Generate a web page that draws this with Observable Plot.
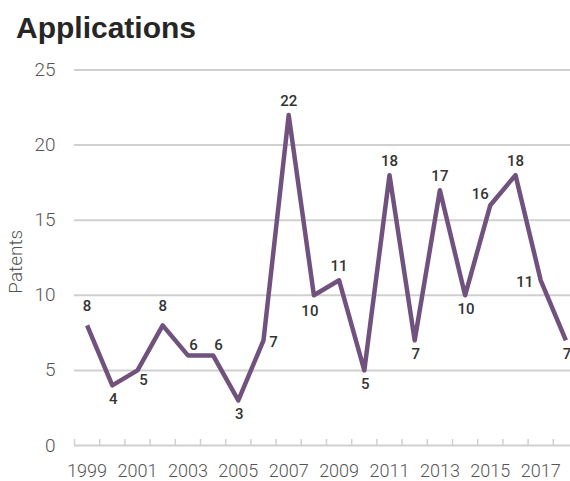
<!DOCTYPE html>
<html>
<head>
<meta charset="utf-8">
<script src="https://cdn.jsdelivr.net/npm/d3@7"></script>
<script src="https://cdn.jsdelivr.net/npm/@observablehq/plot@0.6"></script>
<style>
  html, body { margin: 0; padding: 0; background: #fff; overflow: hidden; }
  #chart { width: 570px; height: 481px; position: relative; overflow: hidden; }
  .title {
    height: 50px;
    box-sizing: border-box;
    padding: 13px 0 0 16px;
    font-family: "Liberation Sans", Arial, sans-serif;
    font-weight: bold;
    font-size: 30px;
    line-height: 30px;
    color: #262626;
  }
</style>
</head>
<body>
<div id="chart">
  <div class="title">Applications</div>
</div>
<script>
// Patent applications per year
const years   = [1999, 2000, 2001, 2002, 2003, 2004, 2005, 2006, 2007, 2008,
                 2009, 2010, 2011, 2012, 2013, 2014, 2015, 2016, 2017, 2018];
const patents = [8, 4, 5, 8, 6, 6, 3, 7, 22, 10,
                 11, 5, 18, 7, 17, 10, 16, 18, 11, 7];
const yTicks  = [0, 5, 10, 15, 20, 25];
const xLabels = [1999, 2001, 2003, 2005, 2007, 2009, 2011, 2013, 2015, 2017];

const data = years.map((year, i) => ({year, value: patents[i]}));

// Year boundaries for the small tick marks along the baseline
const boundaries = [...years.map(y => y - 0.5), years[years.length - 1] + 0.5];

// Where each value label sits relative to its point
const placement = {
  high:        {years: [1999, 2002],                   dx: 0,   dy: -19},
  top:         {years: [2007, 2009, 2011, 2013, 2016], dx: 0,   dy: -14},
  bottom:      {years: [2000, 2005, 2010, 2012, 2014, 2018], dx: 1, dy: 14},
  bottomLeft:  {years: [2008],                         dx: -4,  dy: 15.5},
  bottomRight: {years: [2001],                         dx: 6,   dy: 10},
  topRight:    {years: [2003, 2004],                   dx: 5.5, dy: -10},
  right:       {years: [2006],                         dx: 10,  dy: 2},
  left:        {years: [2017],                         dx: -16, dy: 2},
  topLeft:     {years: [2015],                         dx: -10, dy: -11}
};

const labelMarks = Object.values(placement).map(p =>
  Plot.text(data.filter(d => p.years.includes(d.year)), {
    x: "year",
    y: "value",
    text: d => String(d.value),
    dx: p.dx,
    dy: p.dy,
    textAnchor: "middle",
    lineAnchor: "middle",
    fontSize: 15,
    fontWeight: 500,
    fill: "#333"
  })
);

const grey = "#d0d0d0";

const plot = Plot.plot({
  width: 590,
  height: 431,
  marginTop: 19.5,
  marginBottom: 36,
  marginLeft: 74,
  marginRight: 12,
  style: {fontFamily: "Roboto, 'Liberation Sans', sans-serif", maxWidth: "none", overflow: "visible", background: "transparent"},
  x: {type: "linear", domain: [1998.5, 2018.5]},
  y: {domain: [0, 25]},
  marks: [
    Plot.ruleY(yTicks, {stroke: grey, strokeWidth: 2}),
    Plot.axisX(boundaries, {tickSize: -6, stroke: grey, strokeWidth: 1.5, text: null, label: null}),
    Plot.axisX(xLabels, {tickSize: 0, tickPadding: 18.5, tickFormat: d => String(d),
      fontSize: 18, fontWeight: 300, fill: "#555", label: null}),
    Plot.axisY(yTicks, {tickSize: 0, tickPadding: 19, fontSize: 19, fontWeight: 300,
      fill: "#555", label: null}),
    Plot.text(["Patents"], {frameAnchor: "left", rotate: -90, dx: -59, dy: 4,
      fontSize: 19, fontWeight: 300, fill: "#555", textAnchor: "middle", lineAnchor: "middle"}),
    Plot.line(data, {x: "year", y: "value", stroke: "#71527e", strokeWidth: 4.5,
      strokeLinejoin: "round", strokeLinecap: "butt"}),
    ...labelMarks
  ]
});

document.getElementById("chart").appendChild(plot);
</script>
</body>
</html>
